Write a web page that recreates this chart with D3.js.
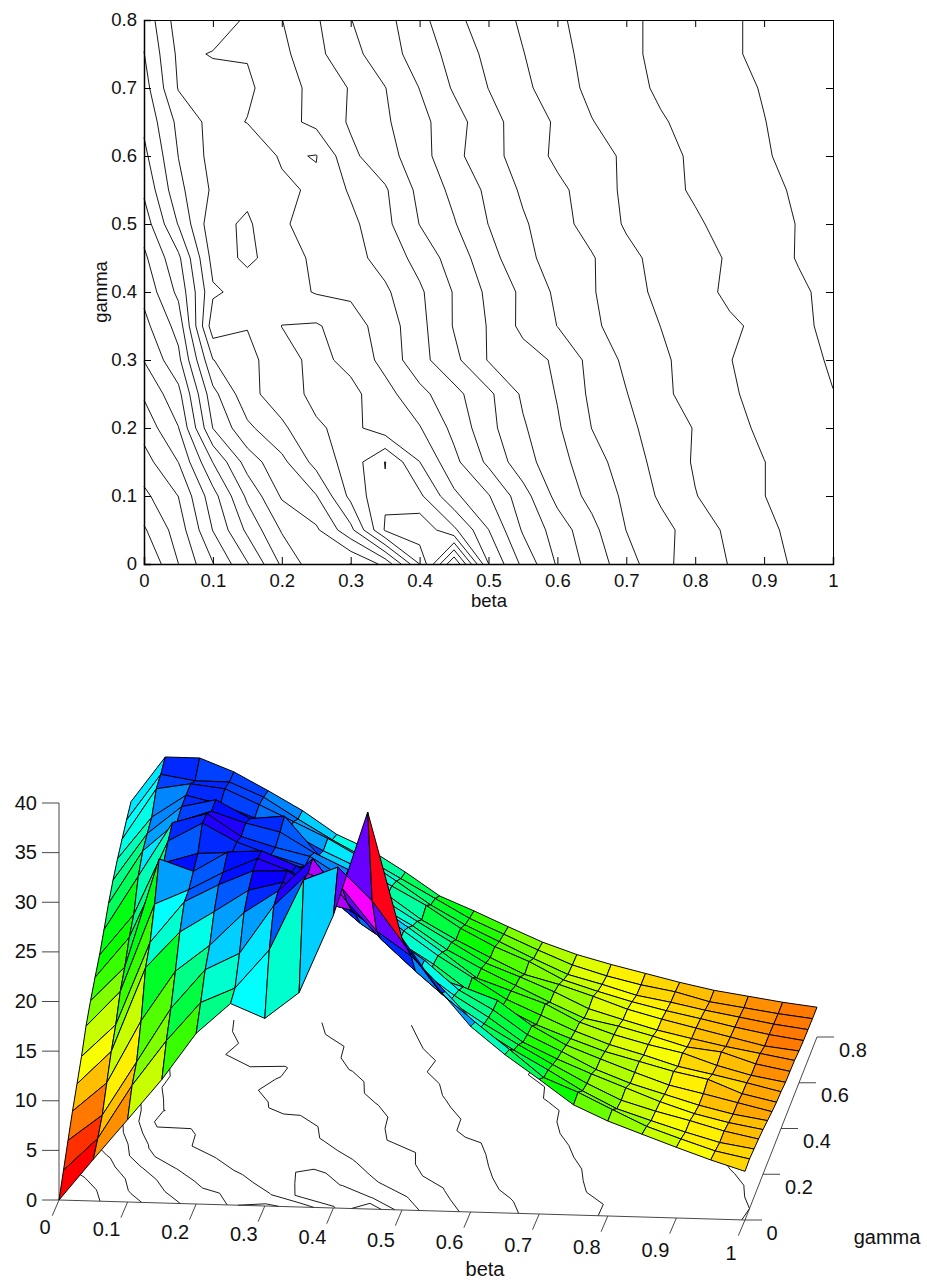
<!DOCTYPE html>
<html>
<head>
<meta charset="utf-8">
<script src="https://cdn.jsdelivr.net/npm/d3@7"></script>
<style>
  html, body { margin: 0; background: #fff; }
  text { font-family: "Liberation Sans", Arial, sans-serif; font-size: 18.5px; fill: #111; }
  .surface text { font-size: 20px; }
</style>
</head>
<body>
<svg id="chart" width="927" height="1283"></svg>
<script>
const betas = d3.range(21).map(i => i * 0.05);
const gammas = d3.range(17).map(i => i * 0.05);

// z, one row per gamma (0 ... 0.8), one value per beta (0 ... 1)
const zRows = [
  [0,4.2,8.3,12.45,17.2,20.3,18.9,21.6,29.5,40,27.4,22.65,18.7,15.96,13.57,11.1,9.57,8.34,7.12,5.95,4.9],
  [1.85,5.16,10.6,15.2,19.15,20.7,24.65,31.8,33.2,29.9,25.3,20.8,17.98,15.33,12.6,11.21,9.57,7.98,6.81,5.7,5.0],
  [3.7,6.35,11.8,17.3,21.3,23.05,27.95,31.3,29.9,25.7,23.3,19.8,16.2,14.1,12.2,10.2,8.5,7.4,6.35,5.4,4.85],
  [5.5,8.45,14.8,19.9,22.6,26.0,28.3,31.65,27.4,23.7,20.6,17.7,15.5,13.5,11.6,9.8,8.2,7.2,6.35,5.4,4.7],
  [7.1,10.46,19.0,22.7,24.85,27.1,28.0,26.2,25.4,22.6,19.6,17.1,15.0,12.6,11.0,9.6,8.3,7.0,5.9,5.1,4.5],
  [8.7,12.0,20.4,24.6,26.4,27.9,28.0,26.0,23.8,21.7,19.4,16.5,14.6,12.2,10.6,8.9,7.6,6.6,5.6,4.8,4.25],
  [10.6,14.2,23.1,24.65,26.5,28.0,26.75,24.6,21.75,19.5,16.7,15.65,14.4,11.95,10.1,8.8,7.55,6.37,5.6,4.8,4.0],
  [12.0,15.5,26.5,25.35,27.4,27.6,26.2,24.3,21.7,18.8,16.7,14.2,12.6,10.9,9.6,8.4,7.5,6.6,5.9,4.55,3.8],
  [13.2,17.35,24.95,26.0,26.2,25.1,24.9,23.5,21.4,18.8,16.4,14.3,12.2,10.7,9.2,7.95,7.0,5.95,5.25,4.5,3.7],
  [14.3,18.5,26.0,27.9,26.1,24.9,23.9,22.4,20.3,18.0,15.6,13.1,11.9,10.7,8.95,7.8,6.9,6.15,5.0,4.1,3.5],
  [15.7,21.2,26.7,27.7,25.5,24.5,23.7,21.6,18.9,17.0,14.7,12.9,11.3,9.7,8.2,7.5,6.6,5.6,5.2,4.1,3.45],
  [17.2,22.6,25.6,26.8,25.7,24.9,22.9,21.3,18.4,16.3,14.3,12.3,11.0,9.6,8.0,7.0,6.05,5.3,4.6,4.0,3.4],
  [18.4,23.2,26.0,26.8,25.0,25.35,21.5,19.8,17.7,15.3,13.4,11.7,10.1,9.2,8.1,6.9,6.0,5.2,4.4,3.6,3.2],
  [19.4,23.7,26.0,25.2,23.9,22.6,20.8,19.25,17.45,15.6,13.4,11.65,10.25,8.5,7.45,6.5,5.7,5.0,4.25,3.6,3.1],
  [20.2,25.4,26.0,25.6,24.1,22.5,20.9,19.0,16.8,14.5,12.6,11.0,9.4,7.9,7.0,6.0,5.4,4.7,4.1,3.5,3.05],
  [21.0,25.7,25.15,25.13,23.7,21.6,19.6,17.8,15.9,14.0,12.1,10.6,9.1,7.7,6.7,5.9,5.3,4.4,3.9,3.4,3.0],
  [21.7,26.3,26.3,25.0,23.2,21.3,19.0,17.5,15.4,13.1,11.7,10.2,8.75,7.6,6.7,5.9,5.1,4.4,3.9,3.4,3.0]
];

const betaTicks = [0, 0.1, 0.2, 0.3, 0.4, 0.5, 0.6, 0.7, 0.8, 0.9, 1];
const gammaTicksTop = [0, 0.1, 0.2, 0.3, 0.4, 0.5, 0.6, 0.7, 0.8];
const gammaTicksBottom = [0, 0.2, 0.4, 0.6, 0.8];
const zTicks = [0, 5, 10, 15, 20, 25, 30, 35, 40];
const topLevels = d3.range(1, 19).map(k => k * 40 / 19);
const bottomLevels = [5, 10, 15, 20, 25, 30, 35];
const lowJoinLevel = topLevels[11]; // the one level whose saddle joins its low corners in the picture

const svg = d3.select("#chart");
const nx = betas.length, ny = gammas.length;

// d3.contours puts grid node i at i + 0.5 and closes rings outside the grid,
// so keep only the pieces inside the node range.
// Run on -z: the saddles in the picture mostly join the high corners, d3 joins the low ones.
function contourRuns(level) {
  const sign = level === lowJoinLevel ? 1 : -1;
  const gen = d3.contours().size([nx, ny]).thresholds([sign * level]);
  const shape = gen(zRows.flat().map(v => sign * v))[0];
  const inside = p => p[0] >= 0.5 - 1e-9 && p[0] <= nx - 0.5 + 1e-9 && p[1] >= 0.5 - 1e-9 && p[1] <= ny - 0.5 + 1e-9;
  const toData = p => [(p[0] - 0.5) * 0.05, (p[1] - 0.5) * 0.05];
  const runs = [];
  shape.coordinates.forEach(poly => poly.forEach(ring => {
    let run = [];
    ring.forEach(p => {
      if (inside(p)) run.push(toData(p));
      else { if (run.length > 1) runs.push(run); run = []; }
    });
    if (run.length > 1) runs.push(run);
  }));
  return runs;
}

// Top: contour plot
const topX = d3.scaleLinear().domain([0, 1]).range([144, 833]);
const topY = d3.scaleLinear().domain([0, 0.8]).range([564, 20]);
const topLine = d3.line().x(d => topX(d[0])).y(d => topY(d[1]));
const topPlot = svg.append("g");

topPlot.append("g").selectAll("path").data(topLevels.flatMap(contourRuns)).join("path")
  .attr("d", topLine).attr("fill", "none").attr("stroke", "#000").attr("stroke-width", 0.9);

topPlot.append("g").attr("transform", "translate(0,564)")
  .call(d3.axisBottom(topX).tickValues(betaTicks).tickFormat(d3.format("~g")).tickSize(-7).tickPadding(10))
  .call(g => g.select(".domain").attr("stroke-width", 1.5));
topPlot.append("g").attr("transform", "translate(144,0)")
  .call(d3.axisLeft(topY).tickValues(gammaTicksTop).tickFormat(d3.format("~g")).tickSize(-7).tickPadding(7))
  .call(g => g.select(".domain").attr("stroke-width", 1.5));
topPlot.append("g").attr("transform", "translate(0,20)")
  .call(d3.axisTop(topX).tickValues(betaTicks).tickFormat("").tickSize(-7));
topPlot.append("g").attr("transform", "translate(833,0)")
  .call(d3.axisRight(topY).tickValues(gammaTicksTop).tickFormat("").tickSize(-7));

topPlot.append("text").attr("x", 489).attr("y", 607).attr("text-anchor", "middle").text("beta");
topPlot.append("text").attr("transform", "translate(107,292) rotate(-90)").attr("text-anchor", "middle").text("gamma");

// Bottom: surface with contours on the floor, oblique view
const bX = d3.scaleLinear().domain([0, 1]).range([59, 745]);
const bY = d3.scaleLinear().domain([0, 1]).range([1200, 1220]);
const gX = d3.scaleLinear().domain([0, 0.8]).range([0, 72]);
const gY = d3.scaleLinear().domain([0, 0.8]).range([0, -183]);
const zY = d3.scaleLinear().domain([0, 40]).range([0, -397]);
const project = (b, g, z = 0) => [bX(b) + gX(g), bY(b) + gY(g) + zY(z)];

const palette = d3.range(64).map(i => d3.hsl(i * 360 / 64, 1, 0.5).formatHex());
const faceColor = d3.scaleQuantize().domain([0, 40]).range(palette);

const bottomPlot = svg.append("g").attr("class", "surface");
const floorLine = d3.line().x(d => project(d[0], d[1])[0]).y(d => project(d[0], d[1])[1]);

bottomPlot.append("g").selectAll("path").data(bottomLevels.flatMap(contourRuns)).join("path")
  .attr("d", floorLine).attr("fill", "none").attr("stroke", "#000").attr("stroke-width", 0.9);

const axes = bottomPlot.append("g").attr("stroke", "#333").attr("stroke-width", 0.9).attr("fill", "none");
axes.append("path").attr("d", d3.line()([project(0, 0), project(0, 0, 40)]));
axes.append("path").attr("d", d3.line()([project(0, 0), project(1, 0)]));
axes.append("path").attr("d", d3.line()([project(1, 0), project(1, 0.8)]));
zTicks.forEach(t => {
  const [x, y] = project(0, 0, t);
  axes.append("path").attr("d", d3.line()([[x, y], [x - 17, y]]));
  bottomPlot.append("text").attr("x", x - 22).attr("y", y + 6.5).attr("text-anchor", "end").text(t);
});
const betaLabelY = d3.scaleLinear().domain([0, 1]).range([1233.5, 1259.5]);
betaTicks.forEach(t => {
  const [x, y] = project(t, 0);
  axes.append("path").attr("d", d3.line()([[x, y], [x - 6.7, y + 15.7]]));
  bottomPlot.append("text").attr("x", x - (Number.isInteger(t) ? 14 : 21)).attr("y", betaLabelY(t))
    .attr("text-anchor", "middle").text(t);
});
gammaTicksBottom.forEach(t => {
  const [x, y] = project(1, t);
  axes.append("path").attr("d", d3.line()([[x, y], [x + 17, y]]));
  bottomPlot.append("text").attr("x", x + (t === 0 ? 27 : 36)).attr("y", y + 19.5)
    .attr("text-anchor", "middle").text(t);
});
bottomPlot.append("text").attr("x", 485).attr("y", 1276).attr("text-anchor", "middle").text("beta");
bottomPlot.append("text").attr("x", 887).attr("y", 1244).attr("text-anchor", "middle").text("gamma");

// far rows first, and along each row from the far side (beta 0) to the near side
const faces = [];
for (let j = ny - 2; j >= 0; j--) {
  for (let i = 0; i < nx - 1; i++) {
    faces.push({
      z: zRows[j][i],
      pts: [[i, j], [i + 1, j], [i + 1, j + 1], [i, j + 1]].map(([a, c]) => project(betas[a], gammas[c], zRows[c][a]))
    });
  }
}
bottomPlot.append("g").selectAll("polygon").data(faces).join("polygon")
  .attr("points", d => d.pts.map(p => p.join(",")).join(" "))
  .attr("fill", d => faceColor(d.z))
  .attr("stroke", "#000").attr("stroke-width", 1).attr("stroke-linejoin", "round");
</script>
</body>
</html>
